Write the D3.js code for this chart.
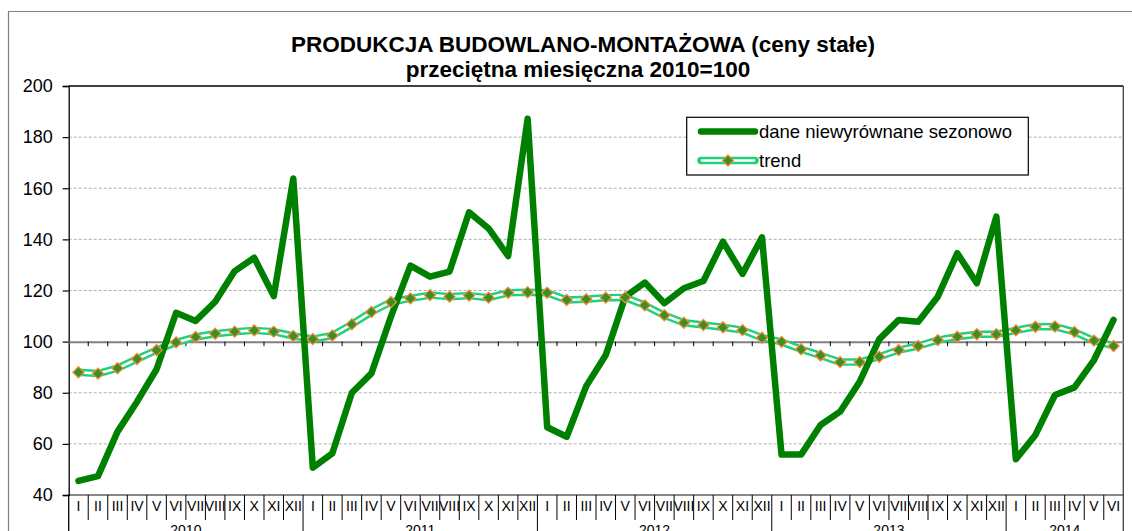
<!DOCTYPE html>
<html><head><meta charset="utf-8">
<script src="https://cdn.jsdelivr.net/npm/d3@7"></script>
<style>body{margin:0;background:#fff}svg{display:block;font-family:"Liberation Sans",Arial,sans-serif}</style>
</head><body><svg id="c" width="1132" height="531"></svg>
<script>
const years = ["2010","2011","2012","2013","2014"];
const monthsPerYear = [12,12,12,12,6];
const romans = ["I","II","III","IV","V","VI","VII","VIII","IX","X","XI","XII"];
const raw = [45.5,47.4,64.8,76.5,89.2,111.3,108.1,115.6,127.6,132.8,117.8,163.8,
             50.7,56.3,80.0,87.6,109.8,129.7,125.4,127.4,150.6,144.3,133.5,187.2,
             66.5,62.8,82.6,94.8,117.6,123.1,115.0,120.9,123.7,139.1,126.5,140.8,
             55.8,55.8,67.4,72.6,84.3,100.9,108.5,107.8,117.6,134.6,122.8,148.9,
             54.0,63.5,79.1,82.1,92.8,108.5];
const trend = [88.0,87.5,89.6,93.2,96.7,99.7,101.8,103.1,103.9,104.4,103.9,102.2,
               101.0,102.4,106.8,111.6,115.5,116.9,118.2,117.6,118.0,117.2,119.1,119.3,
               119.1,116.3,116.6,117.2,117.3,114.2,110.3,107.4,106.5,105.6,104.5,101.5,
               99.9,97.0,94.6,92.0,92.0,94.1,96.7,98.3,100.6,101.9,102.9,102.9,
               104.4,105.8,105.9,103.8,100.4,98.3];
const yTicks = [40,60,80,100,120,140,160,180,200];
const titleLines = ["PRODUKCJA BUDOWLANO-MONTAŻOWA (ceny stałe)","przeciętna miesięczna 2010=100"];
const seriesNames = ["dane niewyrównane sezonowo","trend"];

const monthLabels = [];
years.forEach((y,i)=>{for(let m=0;m<monthsPerYear[i];m++) monthLabels.push(romans[m]);});
const idx = monthLabels.map((_,i)=>i);

const svg = d3.select("#c");
const L=68.7, R=1123.3, T=86, B=495;
const x = d3.scaleBand().domain(idx).range([L,R]).padding(0);
const y = d3.scaleLinear().domain([40,200]).range([B,T]);
const cx = i => x(i)+x.bandwidth()/2;

// outer border
svg.append("path").attr("d",`M8.5,531 V11.5 H1132`).attr("fill","none").attr("stroke","#808080").attr("stroke-width",1.2);

// gridlines
svg.append("g").selectAll("line").data(yTicks.filter(v=>v!==40&&v!==200&&v!==100)).join("line")
  .attr("x1",L).attr("x2",R).attr("y1",d=>y(d)).attr("y2",d=>y(d))
  .attr("stroke","#b0b0b0").attr("stroke-width",1).attr("stroke-dasharray","3,2");

// plot frame top/right/bottom
svg.append("line").attr("x1",L).attr("x2",R).attr("y1",T).attr("y2",T).attr("stroke","#000").attr("stroke-width",1.3);
svg.append("line").attr("x1",R).attr("x2",R).attr("y1",T).attr("y2",B).attr("stroke","#404040").attr("stroke-width",1.3);
svg.append("line").attr("x1",L).attr("x2",R).attr("y1",B).attr("y2",B).attr("stroke","#606060").attr("stroke-width",1.3);

// y axis
const yAxis = svg.append("g").attr("transform",`translate(${L},0)`)
  .call(d3.axisLeft(y).tickValues(yTicks).tickSize(6).tickPadding(10));
yAxis.select(".domain").attr("stroke","#000").attr("stroke-width",1.3);
yAxis.selectAll(".tick line").attr("stroke","#000").attr("stroke-width",1.2);
yAxis.selectAll("text").attr("font-size",18).attr("fill","#000").attr("font-family","Liberation Sans, Arial, sans-serif");

// horizontal axis line at 100 with ticks downward
const xLineAxis = svg.append("g").attr("transform",`translate(0,${y(100)})`)
  .call(d3.axisBottom(x).tickValues([]).tickSizeOuter(0));
xLineAxis.select(".domain").attr("stroke","#808080").attr("stroke-width",2);
svg.append("g").selectAll("line").data(idx.slice(1)).join("line")
  .attr("x1",d=>x(d)).attr("x2",d=>x(d)).attr("y1",y(100)).attr("y2",y(100)+4.5)
  .attr("stroke","#000").attr("stroke-width",1);

// month labels at bottom
const mAxis = svg.append("g").attr("transform",`translate(0,${B})`)
  .call(d3.axisBottom(x).tickSize(0).tickPadding(6).tickFormat(i=>monthLabels[i]));
mAxis.select(".domain").remove();
mAxis.selectAll("text").attr("font-size",14).attr("fill","#000").attr("font-family","Liberation Sans, Arial, sans-serif");
// separators
let starts=[0]; monthsPerYear.forEach((n,i)=>starts.push(starts[i]+n));
const yearStart = new Set(starts.slice(0,-1));
svg.append("g").selectAll("line").data(idx.slice(1)).join("line")
  .attr("x1",d=>x(d)).attr("x2",d=>x(d)).attr("y1",B).attr("y2",d=>yearStart.has(d)?531:520)
  .attr("stroke","#000").attr("stroke-width",1);
svg.append("line").attr("x1",L).attr("x2",L).attr("y1",B).attr("y2",531).attr("stroke","#000").attr("stroke-width",1.3);
svg.append("line").attr("x1",R).attr("x2",R).attr("y1",B).attr("y2",531).attr("stroke","#404040").attr("stroke-width",1.3);
// year labels
svg.append("g").selectAll("text").data(years).join("text")
  .attr("x",(d,i)=>{const a=x(starts[i]); const b=starts[i+1]>=idx.length?R:x(starts[i+1]); return (a+b)/2;})
  .attr("y",535).attr("text-anchor","middle").attr("font-size",14).text(d=>d);

// trend line (double line look)
const lineGen = d3.line().x((d,i)=>cx(i)).y(d=>y(d));
svg.append("path").datum(trend).attr("d",lineGen).attr("fill","none").attr("stroke","#1fd17a").attr("stroke-width",7.5).attr("stroke-linejoin","round");
svg.append("path").datum(trend).attr("d",lineGen).attr("fill","none").attr("stroke","#fff").attr("stroke-width",2.6).attr("stroke-linejoin","round");
// raw line
svg.append("path").datum(raw).attr("d",lineGen).attr("fill","none").attr("stroke","#008000").attr("stroke-width",6.5).attr("stroke-linejoin","round").attr("stroke-linecap","round");
// markers
const diamond = d3.symbol().type(d3.symbolDiamond2).size(80);
svg.append("g").selectAll("path").data(trend).join("path")
  .attr("transform",(d,i)=>`translate(${cx(i)},${y(d)})`).attr("d",diamond)
  .attr("fill","#3a8f2a").attr("stroke","#ff8a33").attr("stroke-width",1.2);

// title
svg.append("text").attr("x",583).attr("y",52).attr("text-anchor","middle").attr("font-size",22.5).attr("font-weight","bold").text(titleLines[0]);
svg.append("text").attr("x",578).attr("y",77).attr("text-anchor","middle").attr("font-size",22.5).attr("font-weight","bold").text(titleLines[1]);

// legend
const lg = svg.append("g");
lg.append("rect").attr("x",686.7).attr("y",117.3).attr("width",341.6).attr("height",57.7).attr("fill","#fff").attr("stroke","#000").attr("stroke-width",1.2);
lg.append("line").attr("x1",701).attr("x2",755).attr("y1",131.5).attr("y2",131.5).attr("stroke","#008000").attr("stroke-width",6.5).attr("stroke-linecap","round");
lg.append("line").attr("x1",701).attr("x2",755).attr("y1",160.5).attr("y2",160.5).attr("stroke","#1fd17a").attr("stroke-width",7.5).attr("stroke-linecap","round");
lg.append("line").attr("x1",701).attr("x2",755).attr("y1",160.5).attr("y2",160.5).attr("stroke","#fff").attr("stroke-width",2.6);
lg.append("path").attr("transform","translate(728,160.5)").attr("d",diamond).attr("fill","#3a8f2a").attr("stroke","#ff8a33").attr("stroke-width",1.2);
lg.selectAll("text.l").data(seriesNames).join("text").attr("class","l")
  .attr("x",759).attr("y",(d,i)=>138+i*29).attr("font-size",18.5).text(d=>d);
</script></body></html>
